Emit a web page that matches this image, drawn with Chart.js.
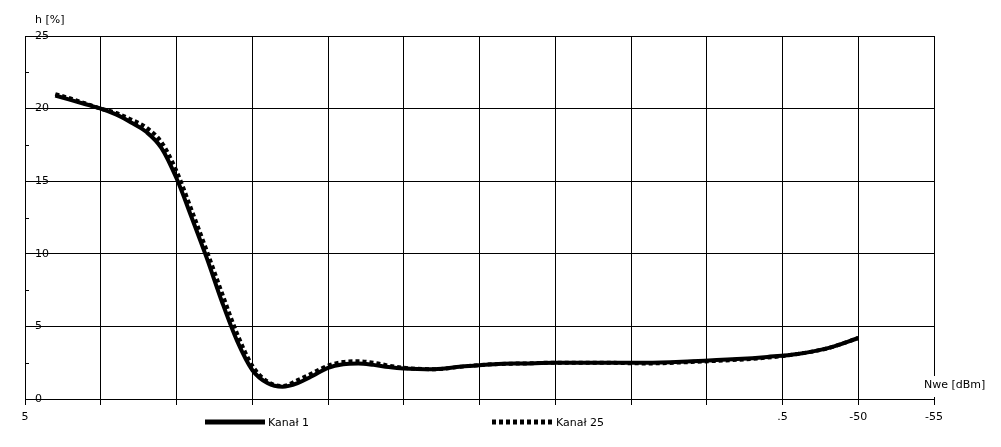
<!DOCTYPE html>
<html>
<head>
<meta charset="utf-8">
<script src="https://cdn.jsdelivr.net/npm/chart.js@4"></script>
<style>
  body { margin: 0; background: #fff; }
  #wrap { width: 1001px; height: 447px; position: relative; }
</style>
</head>
<body>
<div id="wrap"><canvas id="chart"></canvas></div>
<script>
// Input power [dBm] for each measured point
const nwe = [3, 2, 1, 0, -1, -2, -3, -4, -5, -6, -7, -8, -9, -10, -11, -12, -13, -14, -15, -16, -17, -18, -19, -20, -22, -24, -26, -28, -30, -33, -36, -39, -42, -44, -46, -48, -50];

// h [%] per channel
const kanal1 = [20.9, 20.6, 20.3, 20.0, 19.6, 19.05, 18.4, 17.3, 15.2, 12.5, 9.7, 6.7, 4.0, 2.0, 1.1, 0.85, 1.1, 1.6, 2.15, 2.4, 2.45, 2.35, 2.2, 2.1, 2.05, 2.25, 2.4, 2.45, 2.5, 2.5, 2.5, 2.6, 2.75, 2.9, 3.1, 3.5, 4.2];
const kanal25 = [21.0, 20.7, 20.35, 20.0, 19.7, 19.25, 18.7, 17.7, 15.7, 13.0, 10.2, 7.3, 4.5, 2.3, 1.2, 0.9, 1.3, 1.8, 2.3, 2.55, 2.6, 2.5, 2.3, 2.15, 2.05, 2.25, 2.4, 2.45, 2.5, 2.5, 2.45, 2.55, 2.7, 2.85, 3.1, 3.5, 4.2];

const seriesNames = ['Kanał 1', 'Kanał 25'];

// x tick values and what is visible under them in the original
const xTickValues = [5, 0, -5, -10, -15, -20, -25, -30, -35, -40, -45, -50, -55];
const xTickLabels = ['5', '', '', '', '', '', '', '', '', '', '.5', '-50', '-55'];

const yTitle = 'h [%]';
const xTitle = 'Nwe [dBm]';

const FONT = '11px "DejaVu Sans"';

function toPoints(ys) {
  return ys.map((y, i) => ({ x: nwe[i], y: y }));
}

// Titles, minor ticks and legend
const extras = {
  id: 'extras',
  afterDraw(chart) {
    const ctx = chart.ctx;
    const y = chart.scales.y;
    const area = chart.chartArea;
    ctx.save();

    // minor ticks on y axis
    ctx.strokeStyle = '#000';
    ctx.lineWidth = 1;
    for (let v = 2.5; v < 25; v += 5) {
      const py = Math.round(y.getPixelForValue(v)) + 0.5;
      ctx.beginPath();
      ctx.moveTo(area.left, py);
      ctx.lineTo(area.left + 4, py);
      ctx.stroke();
    }

    ctx.font = FONT;
    ctx.fillStyle = '#000';
    ctx.textBaseline = 'middle';
    ctx.textAlign = 'left';
    ctx.fillText(yTitle, 35, 20);

    // x title sits on a white box over the right border
    ctx.fillStyle = '#fff';
    ctx.fillRect(922, 376, 66, 21);
    ctx.fillStyle = '#000';
    ctx.fillText(xTitle, 924, 385);

    // legend
    const items = [
      { x0: 205, x1: 265, tx: 268 },
      { x0: 492, x1: 553, tx: 556 }
    ];
    chart.data.datasets.forEach((ds, i) => {
      const it = items[i];
      ctx.beginPath();
      ctx.lineWidth = 5;
      ctx.lineCap = 'butt';
      ctx.setLineDash(ds.borderDash || []);
      ctx.moveTo(it.x0, 422);
      ctx.lineTo(it.x1, 422);
      ctx.stroke();
      ctx.setLineDash([]);
      ctx.fillText(seriesNames[i], it.tx, 423);
    });

    ctx.restore();
  }
};

const ctx = document.getElementById('chart').getContext('2d');
new Chart(ctx, {
  type: 'line',
  data: {
    datasets: [
      {
        label: seriesNames[0],
        data: toPoints(kanal1),
        borderColor: '#000',
        borderWidth: 4,
        pointRadius: 0,
        cubicInterpolationMode: 'monotone'
      },
      {
        label: seriesNames[1],
        data: toPoints(kanal25),
        borderColor: '#000',
        borderWidth: 4,
        borderDash: [4, 3],
        pointRadius: 0,
        cubicInterpolationMode: 'monotone'
      }
    ]
  },
  options: {
    responsive: true,
    maintainAspectRatio: false,
    animation: false,
    layout: { padding: { top: 36, right: 67, left: 0, bottom: 0 } },
    plugins: {
      legend: { display: false },
      tooltip: { enabled: false }
    },
    scales: {
      x: {
        type: 'linear',
        min: -55,
        max: 5,
        reverse: true,
        afterBuildTicks: (s) => { s.ticks = xTickValues.map(v => ({ value: v })); },
        afterFit: (s) => { s.height = 48; s.paddingLeft = 0; s.paddingRight = 0; },
        ticks: {
          color: '#000',
          font: { family: 'DejaVu Sans', size: 11 },
          padding: 6,
          maxRotation: 0,
          autoSkip: false,
          callback: (v) => xTickLabels[xTickValues.indexOf(v)]
        },
        grid: { color: '#000', lineWidth: 1, tickLength: 6, drawTicks: true },
        border: { color: '#000', width: 1 }
      },
      y: {
        min: 0,
        max: 25,
        afterFit: (s) => { s.width = 25; s.paddingTop = 0; s.paddingBottom = 0; },
        ticks: {
          stepSize: 5,
          mirror: true,
          padding: 10,
          color: '#000',
          font: { family: 'DejaVu Sans', size: 11 }
        },
        grid: { color: '#000', lineWidth: 1, drawTicks: false },
        border: { color: '#000', width: 1 }
      }
    }
  },
  plugins: [extras]
});
</script>
</body>
</html>
